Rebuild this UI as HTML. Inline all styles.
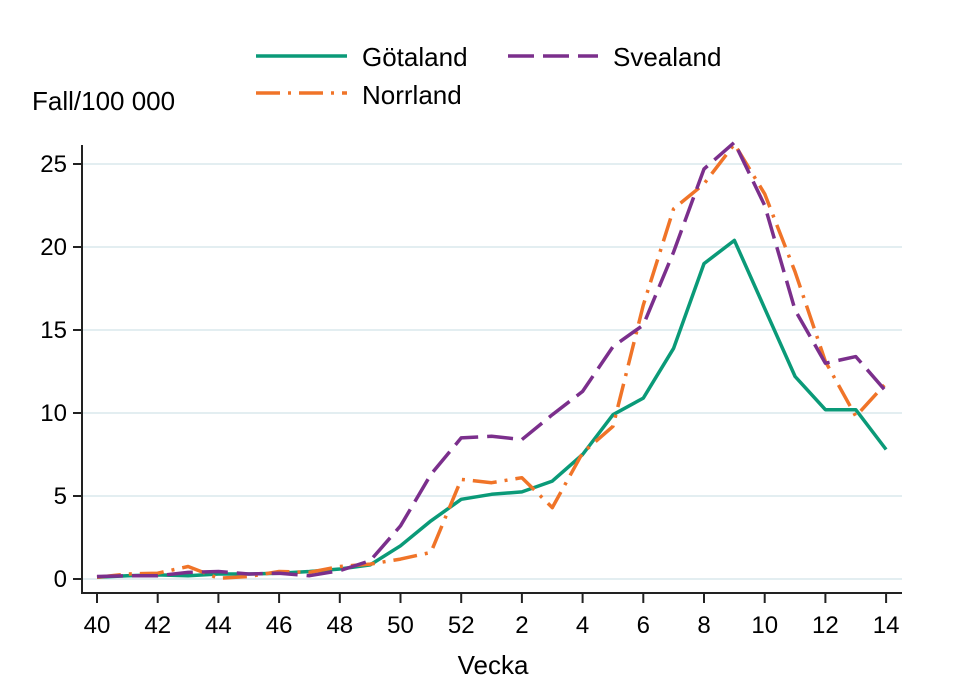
<!DOCTYPE html>
<html><head><meta charset="utf-8"><style>
body{margin:0;background:#fff}
svg{display:block;font-family:"Liberation Sans",Arial,sans-serif}
</style></head><body>
<svg id="c" width="962" height="699" xmlns="http://www.w3.org/2000/svg">
<rect width="962" height="699" fill="#fff"/>
<g id="grid"></g>
<line x1="82" y1="145" x2="82" y2="593" stroke="#222" stroke-width="2"/>
<line x1="81" y1="593" x2="902" y2="593" stroke="#222" stroke-width="2"/>
<g id="ticks" style="font-size:24px" fill="#000"></g>
<text x="32" y="110" font-size="26">Fall/100 000</text>
<text x="493" y="674" font-size="26" text-anchor="middle">Vecka</text>
<line x1="256" y1="56" x2="347" y2="56" stroke="#0a9a78" stroke-width="3.5"/>
<text x="362" y="66" font-size="26">Götaland</text>
<line x1="508" y1="56" x2="598" y2="56" stroke="#7b2f8c" stroke-width="3.5" stroke-dasharray="26,9"/>
<text x="613" y="66" font-size="26">Svealand</text>
<line x1="256" y1="93" x2="347" y2="93" stroke="#f07428" stroke-width="3.5" stroke-dasharray="24,8,3,8"/>
<text x="362" y="104" font-size="26">Norrland</text>
<g id="lines" fill="none" stroke-width="3.5" stroke-linejoin="round"></g>
</svg>
<script>
var NS="http://www.w3.org/2000/svg";
function X(i){return 97+i*30.35}
function Y(v){return 579-v*16.6}
var g=document.getElementById('grid'),t=document.getElementById('ticks'),l=document.getElementById('lines');
function el(p,tag,a,txt){var e=document.createElementNS(NS,tag);for(var k in a)e.setAttribute(k,a[k]);if(txt!=null)e.textContent=txt;p.appendChild(e);return e}
[0,5,10,15,20,25].forEach(function(v){
 el(g,'line',{x1:82,x2:902,y1:Y(v),y2:Y(v),stroke:'#e3eef1','stroke-width':2});
 el(t,'line',{x1:73,x2:82,y1:Y(v),y2:Y(v),stroke:'#222','stroke-width':2});
 el(t,'text',{x:67,y:Y(v)+8,'text-anchor':'end','font-size':24},v);
});
var labs=[40,42,44,46,48,50,52,2,4,6,8,10,12,14];
labs.forEach(function(lb,k){var i=k*2;
 el(t,'line',{x1:X(i),x2:X(i),y1:593,y2:603,stroke:'#222','stroke-width':2});
 el(t,'text',{x:X(i),y:633,'text-anchor':'middle','font-size':24},lb);
});
var G=[0.1,0.2,0.25,0.2,0.3,0.3,0.35,0.45,0.6,0.85,2.0,3.5,4.8,5.1,5.25,5.9,7.5,9.9,10.9,13.9,19.0,20.4,16.3,12.2,10.2,10.2,7.8];
var S=[0.15,0.2,0.2,0.4,0.45,0.3,0.35,0.2,0.5,1.1,3.2,6.3,8.5,8.6,8.4,9.9,11.3,14.0,15.3,19.7,24.7,26.3,22.5,16.2,13.0,13.4,11.3];
var N=[0.1,0.3,0.35,0.75,0.05,0.15,0.45,0.4,0.75,0.9,1.2,1.6,6.0,5.8,6.1,4.3,7.6,9.2,16.5,22.3,23.8,26.2,23.2,18.5,13.1,9.8,11.8];
function pl(d,c,da){el(l,'polyline',{points:d.map(function(v,i){return X(i).toFixed(1)+','+Y(v).toFixed(1)}).join(' '),stroke:c,'stroke-dasharray':da||''})}
pl(G,'#0a9a78');
pl(N,'#f07428','24,8,3,8');
pl(S,'#7b2f8c','26,9');
</script>
</body></html>
